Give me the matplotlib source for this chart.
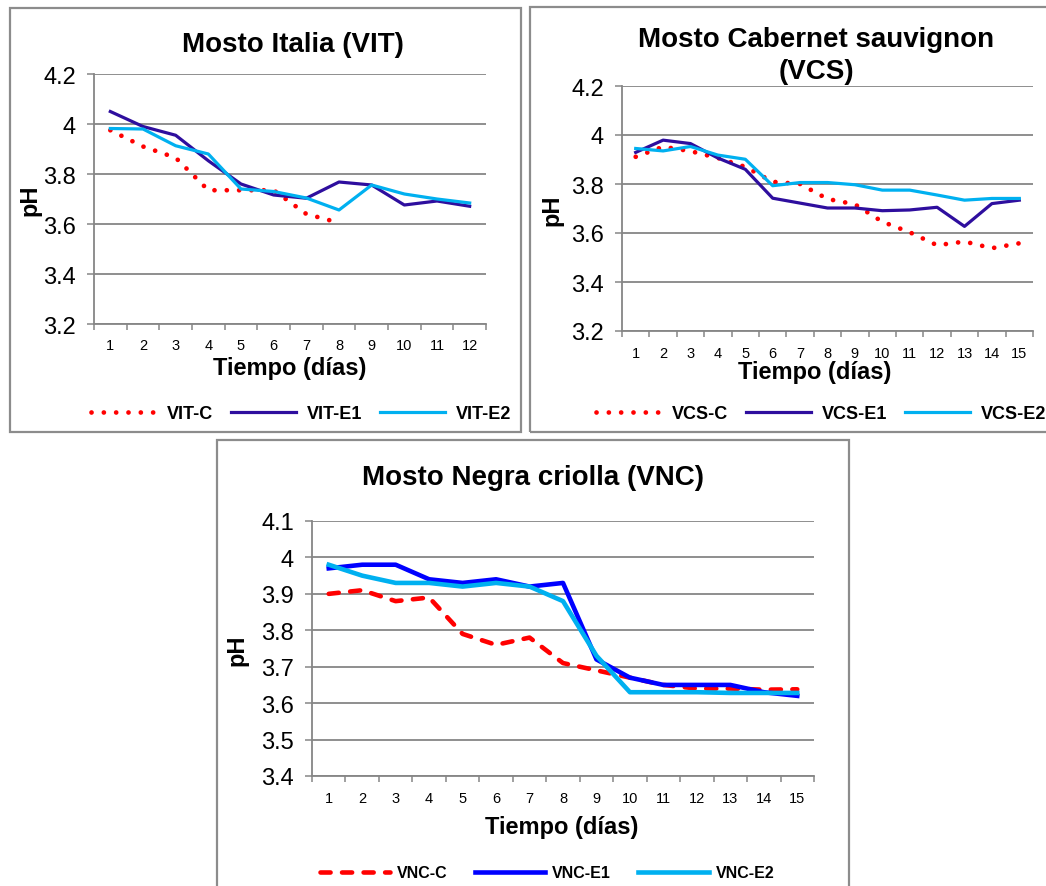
import matplotlib
matplotlib.use("Agg")
import matplotlib.pyplot as plt
from matplotlib.patches import Rectangle
from matplotlib.ticker import FixedLocator, FuncFormatter

plt.rcParams['font.family'] = ['Liberation Sans', 'DejaVu Sans']

# ---- data (pH por dia) ----
dias_12 = [1, 2, 3, 4, 5, 6, 7, 8, 9, 10, 11, 12]
dias_15 = [1, 2, 3, 4, 5, 6, 7, 8, 9, 10, 11, 12, 13, 14, 15]

vit_c = [3.975, 3.91, 3.865, 3.735, 3.735, 3.735, 3.64, 3.605]
vit_e1 = [4.05, 3.99, 3.955, 3.853, 3.76, 3.716, 3.703, 3.768, 3.756, 3.676, 3.692, 3.671]
vit_e2 = [3.982, 3.98, 3.913, 3.88, 3.74, 3.73, 3.704, 3.656, 3.756, 3.72, 3.70, 3.684]

vcs_c = [3.911, 3.952, 3.934, 3.906, 3.87, 3.809, 3.80, 3.739, 3.717, 3.646, 3.603, 3.55, 3.565, 3.538, 3.558]
vcs_e1 = [3.929, 3.979, 3.965, 3.906, 3.86, 3.742, 3.722, 3.702, 3.702, 3.691, 3.694, 3.705, 3.627, 3.72, 3.734]
vcs_e2 = [3.945, 3.935, 3.953, 3.918, 3.901, 3.793, 3.806, 3.806, 3.797, 3.775, 3.775, 3.755, 3.734, 3.741, 3.741]

vnc_c = [3.90, 3.91, 3.88, 3.89, 3.79, 3.76, 3.78, 3.71, 3.69, 3.67, 3.65, 3.64, 3.64, 3.637, 3.638]
vnc_e1 = [3.97, 3.98, 3.98, 3.94, 3.93, 3.94, 3.92, 3.93, 3.72, 3.67, 3.65, 3.65, 3.65, 3.63, 3.62]
vnc_e2 = [3.98, 3.95, 3.93, 3.93, 3.92, 3.93, 3.92, 3.88, 3.73, 3.63, 3.63, 3.63, 3.628, 3.628, 3.628]

W, H = 1046, 887
fig = plt.figure(figsize=(W / 100, H / 100), dpi=100)
GRIS = '#868686'
ROJO = '#FF0000'
AZUL_OSC = '#2E0E9E'
CELESTE = '#00B0F0'
AZUL = '#0000FF'
PUNTOS = (0, (0.01, 2.6))


def px_rect(l, t, r, b):
    return [l / W, 1 - b / H, (r - l) / W, (b - t) / H]


def marco(l, t, r, b):
    fig.add_artist(Rectangle((l / W, 1 - b / H), (r - l) / W, (b - t) / H,
                             transform=fig.transFigure, fill=False,
                             edgecolor='#8c8c8c', lw=1.6))


def panel(rect, ndias, ymin, ymax, ystep, xpad):
    ax = fig.add_axes(rect)
    ax.set_xlim(0.5, ndias + 0.5)
    ax.set_ylim(ymin, ymax)
    yt = []
    v = ymin
    while v <= ymax + 1e-9:
        yt.append(round(v, 2))
        v += ystep
    ax.yaxis.set_major_locator(FixedLocator(yt))
    ax.yaxis.set_major_formatter(FuncFormatter(lambda v, p: f"{v:g}"))
    ax.xaxis.set_major_locator(FixedLocator(list(range(1, ndias + 1))))
    ax.xaxis.set_minor_locator(FixedLocator([k + 0.5 for k in range(ndias + 1)]))
    for s in ['top', 'right']:
        ax.spines[s].set_visible(False)
    for s in ['left', 'bottom']:
        ax.spines[s].set_color(GRIS)
        ax.spines[s].set_linewidth(1.3)
    ax.grid(True, axis='y', color=GRIS, lw=1.3)
    ax.set_axisbelow(True)
    ax.tick_params(axis='y', direction='out', length=5, width=1.1, color=GRIS,
                   labelsize=17, pad=8)
    ax.tick_params(axis='x', which='major', length=0, labelsize=10.5, pad=xpad)
    ax.tick_params(axis='x', which='minor', direction='out', length=4, width=1.1, color=GRIS)
    return ax


# ---- Mosto Italia ----
marco(10, 9, 521, 433)
ax1 = panel(px_rect(94, 75, 486, 325), 12, 3.2, 4.2, 0.2, 10)
ax1.plot(dias_12[:len(vit_c)], vit_c, color=ROJO, lw=3.4, ls=PUNTOS,
         dash_capstyle='round', label='VIT-C')
ax1.plot(dias_12, vit_e1, color=AZUL_OSC, lw=2.3, label='VIT-E1')
ax1.plot(dias_12, vit_e2, color=CELESTE, lw=2.3, label='VIT-E2')
fig.text(293 / W, 1 - 45 / H, 'Mosto Italia (VIT)', ha='center', va='center',
         fontsize=20, fontweight='bold')
fig.text(290 / W, 1 - 369 / H, 'Tiempo (días)', ha='center', va='center',
         fontsize=17, fontweight='bold')
fig.text(30 / W, 1 - 200 / H, 'pH', ha='center', va='center', rotation=90,
         fontsize=17, fontweight='bold')
ax1.legend(loc='center', bbox_to_anchor=(301 / W, 1 - 415 / H),
           bbox_transform=fig.transFigure, ncol=3, frameon=False,
           prop={'weight': 'bold', 'size': 13}, handlelength=3.6,
           handletextpad=0.6, columnspacing=1.0)

# ---- Mosto Cabernet sauvignon ----
marco(530, 8, 1052, 433)
ax2 = panel(px_rect(622, 87, 1033, 332), 15, 3.2, 4.2, 0.2, 11)
ax2.plot(dias_15, vcs_c, color=ROJO, lw=3.4, ls=PUNTOS,
         dash_capstyle='round', label='VCS-C')
ax2.plot(dias_15, vcs_e1, color=AZUL_OSC, lw=2.3, label='VCS-E1')
ax2.plot(dias_15, vcs_e2, color=CELESTE, lw=2.3, label='VCS-E2')
fig.text(816 / W, 1 - 40 / H, 'Mosto Cabernet sauvignon', ha='center', va='center',
         fontsize=20, fontweight='bold')
fig.text(816 / W, 1 - 72 / H, '(VCS)', ha='center', va='center',
         fontsize=20, fontweight='bold')
fig.text(815 / W, 1 - 373 / H, 'Tiempo (días)', ha='center', va='center',
         fontsize=17, fontweight='bold')
fig.text(552 / W, 1 - 210 / H, 'pH', ha='center', va='center', rotation=90,
         fontsize=17, fontweight='bold')
ax2.legend(loc='center', bbox_to_anchor=(821 / W, 1 - 415 / H),
           bbox_transform=fig.transFigure, ncol=3, frameon=False,
           prop={'weight': 'bold', 'size': 13}, handlelength=3.6,
           handletextpad=0.6, columnspacing=1.0)

# ---- Mosto Negra criolla ----
marco(217, 441, 849, 895)
ax3 = panel(px_rect(312, 522, 814, 777), 15, 3.4, 4.1, 0.1, 11)
ax3.plot(dias_15, vnc_c, color=ROJO, lw=3.3, ls=(0, (2.2, 2.5)),
         dash_capstyle='round', label='VNC-C')
ax3.plot(dias_15, vnc_e1, color=AZUL, lw=3.3, label='VNC-E1')
ax3.plot(dias_15, vnc_e2, color=CELESTE, lw=3.3, label='VNC-E2')
fig.text(533 / W, 1 - 478 / H, 'Mosto Negra criolla (VNC)', ha='center', va='center',
         fontsize=20, fontweight='bold')
fig.text(562 / W, 1 - 828 / H, 'Tiempo (días)', ha='center', va='center',
         fontsize=17, fontweight='bold')
fig.text(237 / W, 1 - 650 / H, 'pH', ha='center', va='center', rotation=90,
         fontsize=17, fontweight='bold')
ax3.legend(loc='center', bbox_to_anchor=(547 / W, 1 - 874 / H),
           bbox_transform=fig.transFigure, ncol=3, frameon=False,
           prop={'weight': 'bold', 'size': 11.5}, handlelength=4.4,
           handletextpad=0.45, columnspacing=1.7)

fig.savefig('out.png', dpi=100)
